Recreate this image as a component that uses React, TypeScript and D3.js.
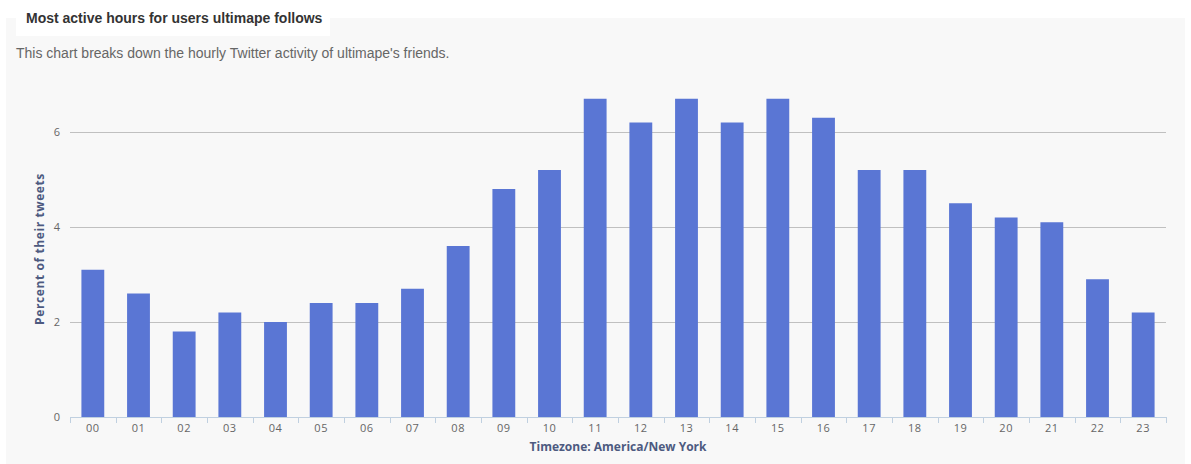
import React from "react";
import * as d3 from "d3";

const hours = ["00","01","02","03","04","05","06","07","08","09","10","11","12","13","14","15","16","17","18","19","20","21","22","23"];
const percents = [3.1,2.6,1.8,2.2,2.0,2.4,2.4,2.7,3.6,4.8,5.2,6.7,6.2,6.7,6.2,6.7,6.3,5.2,5.2,4.5,4.2,4.1,2.9,2.2];
const yTicks = [0,2,4,6];

const W = 1191, H = 464;
const plot = { left: 70, right: 1166, top: 85, bottom: 417 };

export default function App() {
  const x = d3.scaleBand<string>().domain(hours).range([plot.left, plot.right]).paddingInner(0.5).paddingOuter(0.25);
  const xEdge = d3.scaleLinear().domain([0, hours.length]).range([plot.left, plot.right]);
  const y = d3.scaleLinear().domain([0, 7]).range([plot.bottom, plot.bottom - 95 * 3.5]);
  const axisFont = "'Open Sans', 'DejaVu Sans', sans-serif";
  return (
    <div style={{ position: "absolute", left: 0, top: 0 }}>
      <svg width={W} height={H} style={{ display: "block" }}>
        <rect x={0} y={0} width={W} height={H} fill="#ffffff" />
        <rect x={6} y={18} width={1179} height={H - 18} fill="#f8f8f8" />
        <rect x={16} y={0} width={314} height={36} fill="#ffffff" />
        <text x={26} y={23} fontFamily="'Liberation Sans', Arial, sans-serif" fontWeight="bold" fontSize={14} fill="#333">
          Most active hours for users ultimape follows
        </text>
        <text x={16} y={58} fontFamily="'Liberation Sans', Arial, sans-serif" fontSize={14} fill="#666">
          This chart breaks down the hourly Twitter activity of ultimape's friends.
        </text>
        {yTicks.filter(t => t > 0).map(t => (
          <line key={t} x1={plot.left} x2={plot.right} y1={Math.round(y(t)) + 0.5} y2={Math.round(y(t)) + 0.5} stroke="#c0c0c0" strokeWidth={1} />
        ))}
        {yTicks.map(t => (
          <text key={t} x={60} y={y(t) + 4} textAnchor="end" fontFamily={axisFont} fontSize={11} fill="#666">{t}</text>
        ))}
        {hours.map((h, i) => (
          <rect key={h} x={x(h)} y={y(percents[i])} width={x.bandwidth()} height={y(0) - y(percents[i])} fill="#5a76d4" />
        ))}
        <line x1={plot.left} x2={plot.right} y1={plot.bottom + 0.5} y2={plot.bottom + 0.5} stroke="#c0d0e0" strokeWidth={1} />
        {d3.range(hours.length + 1).map(i => (
          <line key={i} x1={Math.round(xEdge(i)) + 0.5} x2={Math.round(xEdge(i)) + 0.5} y1={plot.bottom} y2={plot.bottom + 6} stroke="#c0d0e0" strokeWidth={1} />
        ))}
        {hours.map(h => (
          <text key={h} x={(x(h) as number) + x.bandwidth() / 2} y={432} textAnchor="middle" fontFamily={axisFont} fontSize={11} letterSpacing={0.5} fill="#666">{h}</text>
        ))}
        <text x={(plot.left + plot.right) / 2} y={451} textAnchor="middle" fontFamily={axisFont} fontWeight="bold" fontSize={12} fill="#4d5a80">
          Timezone: America/New York
        </text>
        <text transform={`translate(44, 249) rotate(-90)`} textAnchor="middle" fontFamily={axisFont} fontWeight="bold" fontSize={12} letterSpacing={0.6} fill="#4d5a80">
          Percent of their tweets
        </text>
      </svg>
    </div>
  );
}
